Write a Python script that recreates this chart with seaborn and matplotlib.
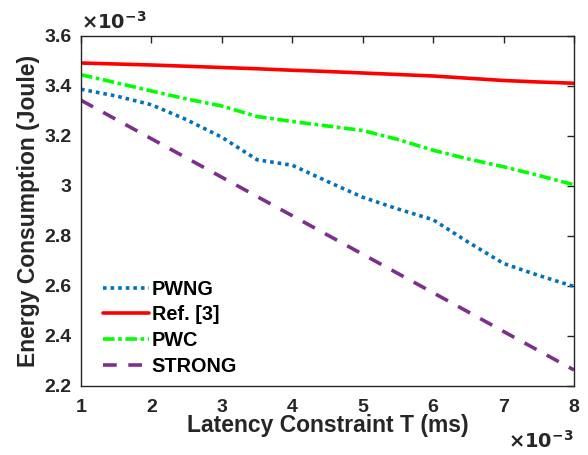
import matplotlib
matplotlib.use('Agg')
import matplotlib.pyplot as plt
from matplotlib.ticker import FuncFormatter
import numpy as np
import pandas as pd
import seaborn as sns

# latency constraint T (x 10^-3 ms)
latency = [1, 1.5, 2, 2.5, 3, 3.5, 4, 4.5, 5, 5.5, 6, 6.5, 7, 7.5, 8]

# energy consumption (x 10^-3 Joule)
pwng = [3.387, 3.36, 3.325, 3.265, 3.195, 3.105, 3.083, 3.018, 2.955, 2.908, 2.865, 2.775, 2.69, 2.642, 2.598]
ref3 = [3.492, 3.488, 3.484, 3.479, 3.474, 3.469, 3.463, 3.458, 3.452, 3.446, 3.44, 3.431, 3.422, 3.416, 3.411]
pwc = [3.445, 3.413, 3.38, 3.348, 3.32, 3.278, 3.258, 3.24, 3.222, 3.186, 3.143, 3.108, 3.077, 3.042, 3.005]
strong = [3.343, 3.266, 3.189, 3.112, 3.035, 2.958, 2.881, 2.804, 2.727, 2.650, 2.573, 2.496, 2.418, 2.341, 2.264]

series_names = ['PWNG', 'Ref. [3]', 'PWC', 'STRONG']
series_values = [pwng, ref3, pwc, strong]

colors = ['#0072BD', '#FF0000', '#00FF00', '#7E2F8E']
dash_styles = [(0, (1, 1.1)), '-', (0, (3.2, 1, 1, 1)), (0, (3.8, 3.2))]

df = pd.concat([pd.DataFrame({'T': latency, 'E': vals, 'method': name})
                for name, vals in zip(series_names, series_values)])

sns.set_style('white')
plt.rcParams['font.family'] = ['Liberation Sans', 'DejaVu Sans']
plt.rcParams['font.weight'] = 'bold'
plt.rcParams['axes.labelweight'] = 'bold'

text_color = '#262626'

fig = plt.figure(figsize=(5.88, 4.55), dpi=100)
ax = fig.add_axes([81 / 588, 1 - 386 / 455, 493 / 588, 350 / 455])

for name, col, ls in zip(series_names, colors, dash_styles):
    sub = df[df['method'] == name]
    sns.lineplot(data=sub, x='T', y='E', ax=ax, color=col, linewidth=2.6,
                 label=name, linestyle=ls)

ax.set_xlim(1, 8)
ax.set_ylim(2.2, 3.6)
ax.set_xticks(range(1, 9))
ax.set_yticks(np.arange(2.2, 3.61, 0.2))
fmt = FuncFormatter(lambda v, p: '%g' % round(v, 2))
ax.xaxis.set_major_formatter(fmt)
ax.yaxis.set_major_formatter(fmt)

ax.tick_params(direction='in', length=5, width=1, colors=text_color,
               labelsize=14, top=True, right=True)
ax.tick_params(axis='x', pad=9)
ax.tick_params(axis='y', pad=7)
for lab in ax.get_xticklabels() + ax.get_yticklabels():
    lab.set_fontweight('bold')
for sp in ax.spines.values():
    sp.set_visible(True)
    sp.set_color(text_color)
    sp.set_linewidth(1)

ax.set_xlabel('Latency Constraint T (ms)', fontsize=16.5, color=text_color, labelpad=-1)
ax.set_ylabel('Energy Consumption (Joule)', fontsize=16.5, color=text_color, labelpad=3)

ax.text(0.0, 1.01, r'$\times\mathbf{10^{-3}}$', transform=ax.transAxes,
        fontsize=14, color=text_color, ha='left', va='bottom')
ax.text(1.0, -0.125, r'$\times\mathbf{10^{-3}}$', transform=ax.transAxes,
        fontsize=14, color=text_color, ha='right', va='top')

leg = ax.legend(loc='lower left', bbox_to_anchor=(0.045, 0.03), frameon=False,
                borderpad=0, borderaxespad=0, handlelength=2.3,
                handletextpad=0.15, labelspacing=0.33, prop={'size': 14.3, 'weight': 'bold'})
for t in leg.get_texts():
    t.set_color('black')

fig.savefig('out.png', dpi=100, facecolor='white')
